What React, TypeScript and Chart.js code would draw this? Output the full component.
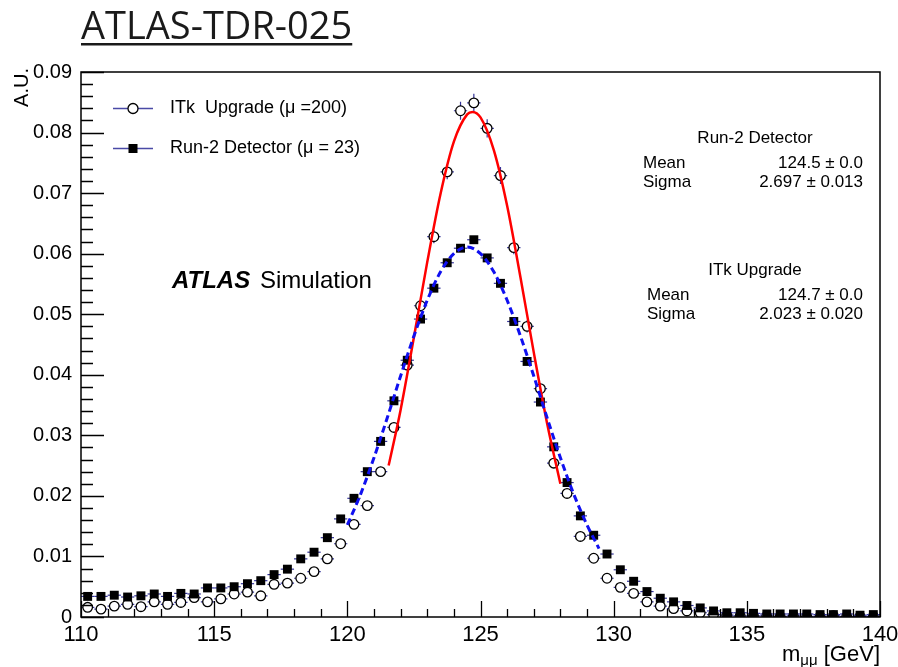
import React, { useEffect, useRef } from 'react';
import { Chart, registerables } from 'chart.js';

Chart.register(...registerables);

// ---- data ----
const massBins = [
  110.25, 110.75, 111.25, 111.75, 112.25, 112.75, 113.25, 113.75, 114.25, 114.75,
  115.25, 115.75, 116.25, 116.75, 117.25, 117.75, 118.25, 118.75, 119.25, 119.75,
  120.25, 120.75, 121.25, 121.75, 122.25, 122.75, 123.25, 123.75, 124.25, 124.75,
  125.25, 125.75, 126.25, 126.75, 127.25, 127.75, 128.25, 128.75, 129.25, 129.75,
  130.25, 130.75, 131.25, 131.75, 132.25, 132.75, 133.25, 133.75, 134.25, 134.75,
  135.25, 135.75, 136.25, 136.75, 137.25, 137.75, 138.25, 138.75, 139.25, 139.75,
];

const itkValues = [
  0.0016, 0.0013, 0.0018, 0.0021, 0.0017, 0.0025, 0.0021, 0.0024, 0.0032, 0.0025,
  0.0030, 0.0038, 0.0041, 0.0035, 0.0054, 0.0056, 0.0064, 0.0075, 0.0096, 0.0121,
  0.0153, 0.0184, 0.0240, 0.0313, 0.0416, 0.0514, 0.0628, 0.0735, 0.0836, 0.0849,
  0.0807, 0.0729, 0.0610, 0.0480, 0.0377, 0.0254, 0.0204, 0.0133, 0.0097, 0.0064,
  0.0049, 0.0039, 0.0025, 0.0018, 0.0014, 0.0010, 0.0007, 0.0004, 0.0003, 0.0002,
  0.0002, 0.0002, 0.0001, 0.0002, 0.0001, 0.0001, 0.0002, 0.0001, 0.0001, 0.0001,
];

const itkErrors = [
  0.0004, 0.0004, 0.0004, 0.0004, 0.0004, 0.0004, 0.0004, 0.0004, 0.0004, 0.0004,
  0.0004, 0.0004, 0.0004, 0.0004, 0.0005, 0.0005, 0.0005, 0.0005, 0.0006, 0.0006,
  0.0007, 0.0007, 0.0008, 0.0008, 0.0009, 0.0010, 0.0011, 0.0012, 0.0015, 0.0015,
  0.0015, 0.0014, 0.0011, 0.0010, 0.0009, 0.0008, 0.0007, 0.0006, 0.0006, 0.0005,
  0.0005, 0.0004, 0.0004, 0.0004, 0.0004, 0.0004, 0.0004, 0.0004, 0.0004, 0.0004,
  0.0004, 0.0004, 0.0004, 0.0004, 0.0004, 0.0004, 0.0004, 0.0004, 0.0004, 0.0004,
];

const run2Values = [
  0.0034, 0.0034, 0.0036, 0.0033, 0.0035, 0.0038, 0.0034, 0.0039, 0.0038, 0.0048,
  0.0048, 0.0050, 0.0055, 0.0060, 0.0070, 0.0079, 0.0096, 0.0107, 0.0131, 0.0162,
  0.0196, 0.0240, 0.0290, 0.0357, 0.0424, 0.0492, 0.0543, 0.0585, 0.0609, 0.0623,
  0.0593, 0.0551, 0.0488, 0.0422, 0.0355, 0.0281, 0.0222, 0.0167, 0.0135, 0.0104,
  0.0078, 0.0059, 0.0042, 0.0031, 0.0025, 0.0019, 0.0015, 0.0010, 0.0007, 0.0007,
  0.0006, 0.0005, 0.0005, 0.0005, 0.0005, 0.0004, 0.0004, 0.0005, 0.0003, 0.0004,
];

// fitted curves
const itkFitMass = [121.55, 122.0, 122.5, 123.0, 123.5, 124.0, 124.5, 124.7, 125.0, 125.5, 126.0, 126.5, 127.0, 127.5, 128.0];
const itkFitValues = [0.0250, 0.0342, 0.0462, 0.0586, 0.0699, 0.0785, 0.0830, 0.0834, 0.0825, 0.0771, 0.0679, 0.0561, 0.0437, 0.0320, 0.0220];

const run2FitMass = [120.0, 120.5, 121.0, 121.5, 122.0, 122.5, 123.0, 123.5, 124.0, 124.5, 125.0, 125.5, 126.0, 126.5, 127.0, 127.5, 128.0, 128.5, 129.0, 129.45];
const run2FitValues = [0.0152, 0.0203, 0.0263, 0.0329, 0.0398, 0.0464, 0.0523, 0.0570, 0.0600, 0.0611, 0.0600, 0.0570, 0.0523, 0.0464, 0.0398, 0.0329, 0.0263, 0.0203, 0.0152, 0.0113];

const xTickStep = 5;
const yTickStep = 0.01;

const seriesLabels = ['ITk  Upgrade (\u03bc =200)', 'Run-2 Detector (\u03bc = 23)'];
const run2Stats = { title: 'Run-2 Detector', mean: '124.5 \u00b1 0.0', sigma: '2.697 \u00b1 0.013' };
const itkStats = { title: 'ITk Upgrade', mean: '124.7 \u00b1 0.0', sigma: '2.023 \u00b1 0.020' };

const FONT = "'Liberation Sans', Arial, Helvetica, sans-serif";

const toPoints = (xs: number[], ys: number[]) => xs.map((x, i) => ({ x, y: ys[i] }));

const decorPlugin = {
  id: 'decor',
  beforeDatasetDraw(chart: any, args: any) {
    const ds = chart.data.datasets[args.index];
    if (!ds.binned) return;
    const { ctx } = chart;
    const x = chart.scales.x;
    const y = chart.scales.y;
    const half = (massBins[1] - massBins[0]) / 2;
    ctx.save();
    ctx.beginPath();
    ctx.rect(chart.chartArea.left, chart.chartArea.top, chart.chartArea.right - chart.chartArea.left, chart.chartArea.bottom - chart.chartArea.top);
    ctx.clip();
    ctx.strokeStyle = '#34349a';
    ctx.lineWidth = 1.2;
    ds.data.forEach((p: any, i: number) => {
      const px = x.getPixelForValue(p.x);
      const py = y.getPixelForValue(p.y);
      ctx.beginPath();
      ctx.moveTo(x.getPixelForValue(p.x - half), py);
      ctx.lineTo(x.getPixelForValue(p.x + half), py);
      if (ds.errors) {
        const e = ds.errors[i];
        ctx.moveTo(px, y.getPixelForValue(p.y + e));
        ctx.lineTo(px, y.getPixelForValue(p.y - e));
      }
      ctx.stroke();
    });
    ctx.restore();
  },
  afterDatasetsDraw(chart: any) {
    const { ctx, chartArea: a } = chart;
    const x = chart.scales.x;
    const y = chart.scales.y;
    ctx.save();
    ctx.strokeStyle = '#000';
    ctx.lineWidth = 1.5;
    ctx.strokeRect(a.left, a.top, a.right - a.left, a.bottom - a.top);
    ctx.lineWidth = 1.3;
    ctx.beginPath();
    for (let v = 110; v <= 140; v += 1) {
      const px = Math.round(x.getPixelForValue(v)) + 0.5;
      const len = (v - 110) % xTickStep === 0 ? 16 : 8;
      ctx.moveTo(px, a.bottom);
      ctx.lineTo(px, a.bottom - len);
    }
    for (let k = 0; k <= 45; k++) {
      const v = k * 0.002;
      const py = Math.round(y.getPixelForValue(v)) + 0.5;
      const len = k % 5 === 0 ? 23 : 12;
      ctx.moveTo(a.left, py);
      ctx.lineTo(a.left + len, py);
    }
    ctx.stroke();
    ctx.restore();
  },
  afterDraw(chart: any) {
    const { ctx, chartArea: a } = chart;
    ctx.save();

    // Title
    ctx.font = "38px 'Open Sans', 'Liberation Sans', sans-serif";
    ctx.fillStyle = '#1a1a1a';
    ctx.textBaseline = 'alphabetic';
    ctx.textAlign = 'left';
    const title = 'ATLAS-TDR-025';
    ctx.fillText(title, 81, 39);
    const tw = ctx.measureText(title).width;
    ctx.fillRect(81, 43, tw, 2.5);

    // Y axis title
    ctx.fillStyle = '#000';
    ctx.save();
    ctx.translate(28, 68);
    ctx.rotate(-Math.PI / 2);
    ctx.font = `20px ${FONT}`;
    ctx.textAlign = 'right';
    ctx.textBaseline = 'alphabetic';
    ctx.fillText('A.U.', 0, 0);
    ctx.restore();

    // X axis title  m_{μμ} [GeV]
    ctx.textBaseline = 'alphabetic';
    ctx.textAlign = 'left';
    ctx.font = `22px ${FONT}`;
    const part1 = 'm';
    const part3 = ' [GeV]';
    const w1 = ctx.measureText(part1).width;
    const w3 = ctx.measureText(part3).width;
    ctx.font = `15px ${FONT}`;
    const w2 = ctx.measureText('\u03bc\u03bc').width;
    let cx = a.right - (w1 + w2 + w3);
    ctx.font = `22px ${FONT}`;
    ctx.fillText(part1, cx, 661);
    cx += w1;
    ctx.font = `15px ${FONT}`;
    ctx.fillText('\u03bc\u03bc', cx, 665);
    cx += w2;
    ctx.font = `22px ${FONT}`;
    ctx.fillText(part3, cx, 661);

    // Legend
    ctx.textBaseline = 'middle';
    ctx.font = `18px ${FONT}`;
    const rows = [108, 148];
    rows.forEach((ry, i) => {
      ctx.strokeStyle = '#4a4aa6';
      ctx.lineWidth = 1.4;
      ctx.beginPath();
      ctx.moveTo(113, ry + 0.5);
      ctx.lineTo(153, ry + 0.5);
      ctx.stroke();
      if (i === 0) {
        ctx.beginPath();
        ctx.arc(133, ry + 0.5, 5, 0, Math.PI * 2);
        ctx.fillStyle = '#fff';
        ctx.fill();
        ctx.strokeStyle = '#000';
        ctx.lineWidth = 1.3;
        ctx.stroke();
      } else {
        ctx.fillStyle = '#000';
        ctx.fillRect(128.5, ry - 4, 9, 9);
      }
      ctx.fillStyle = '#000';
      ctx.fillText(seriesLabels[i], 170, ry);
    });

    // ATLAS Simulation
    ctx.font = `italic bold 24px ${FONT}`;
    ctx.fillText('ATLAS', 172, 281);
    const aw = ctx.measureText('ATLAS ').width;
    ctx.font = `24px ${FONT}`;
    ctx.fillText('Simulation', 172 + aw + 3, 281);

    // Stats boxes
    const drawStats = (s: any, ty: number, my: number, sy: number, lx: number) => {
      ctx.font = `17px ${FONT}`;
      ctx.textAlign = 'center';
      ctx.fillText(s.title, 755, ty);
      ctx.textAlign = 'left';
      ctx.fillText('Mean', lx, my);
      ctx.fillText('Sigma', lx, sy);
      ctx.textAlign = 'right';
      ctx.fillText(s.mean, 863, my);
      ctx.fillText(s.sigma, 863, sy);
    };
    drawStats(run2Stats, 138, 163, 182, 643);
    drawStats(itkStats, 270, 295, 314, 647);

    ctx.restore();
  },
};

export default function App() {
  const canvasRef = useRef<HTMLCanvasElement | null>(null);

  useEffect(() => {
    document.body.style.margin = '0';
    const canvas = canvasRef.current;
    if (!canvas) return;
    const chart = new Chart(canvas, {
      type: 'scatter',
      data: {
        datasets: [
          {
            label: 'Run-2 fit',
            data: toPoints(run2FitMass, run2FitValues),
            showLine: true,
            borderColor: '#1010f0',
            borderWidth: 3,
            borderDash: [7, 4],
            pointRadius: 0,
            cubicInterpolationMode: 'monotone',
            fill: false,
          } as any,
          {
            label: 'ITk fit',
            data: toPoints(itkFitMass, itkFitValues),
            showLine: true,
            borderColor: '#ff0000',
            borderWidth: 2.5,
            pointRadius: 0,
            cubicInterpolationMode: 'monotone',
            fill: false,
          } as any,
          {
            label: seriesLabels[1],
            data: toPoints(massBins, run2Values),
            showLine: false,
            pointStyle: 'rect',
            pointRadius: 6.3,
            pointBackgroundColor: '#000',
            pointBorderColor: '#000',
            pointBorderWidth: 0,
            binned: true,
          } as any,
          {
            label: seriesLabels[0],
            data: toPoints(massBins, itkValues),
            showLine: false,
            pointStyle: 'circle',
            pointRadius: 4.8,
            pointBackgroundColor: '#fff',
            pointBorderColor: '#000',
            pointBorderWidth: 1.3,
            binned: true,
            errors: itkErrors,
          } as any,
        ],
      },
      options: {
        responsive: false,
        animation: false,
        layout: { padding: { top: 72, right: 18, left: 0, bottom: 0 } },
        plugins: {
          legend: { display: false },
          tooltip: { enabled: false },
        },
        scales: {
          x: {
            type: 'linear',
            min: 110,
            max: 140,
            grid: { display: false, drawTicks: false },
            border: { display: false },
            ticks: {
              stepSize: xTickStep,
              autoSkip: false,
              maxRotation: 0,
              padding: 5,
              color: '#000',
              font: { family: FONT, size: 22 },
              callback: (v: any) => String(v),
            },
            afterFit: (s: any) => {
              s.height = 50;
              s.paddingLeft = 0;
              s.paddingRight = 0;
            },
          },
          y: {
            type: 'linear',
            min: 0,
            max: 0.09,
            grid: { display: false, drawTicks: false },
            border: { display: false },
            ticks: {
              stepSize: yTickStep,
              autoSkip: false,
              padding: 9,
              color: '#000',
              font: { family: FONT, size: 20 },
              callback: (v: any) => (Math.abs(v) < 1e-9 ? '0' : Number(v).toFixed(2)),
            },
            afterFit: (s: any) => {
              s.width = 81;
              s.paddingTop = 0;
              s.paddingBottom = 0;
            },
          },
        },
      } as any,
      plugins: [decorPlugin as any],
    });
    return () => chart.destroy();
  }, []);

  return (
    <div style={{ position: 'absolute', left: 0, top: 0, width: 898, height: 667, background: '#fff' }}>
      <canvas ref={canvasRef} width={898} height={667} style={{ display: 'block' }} />
    </div>
  );
}
